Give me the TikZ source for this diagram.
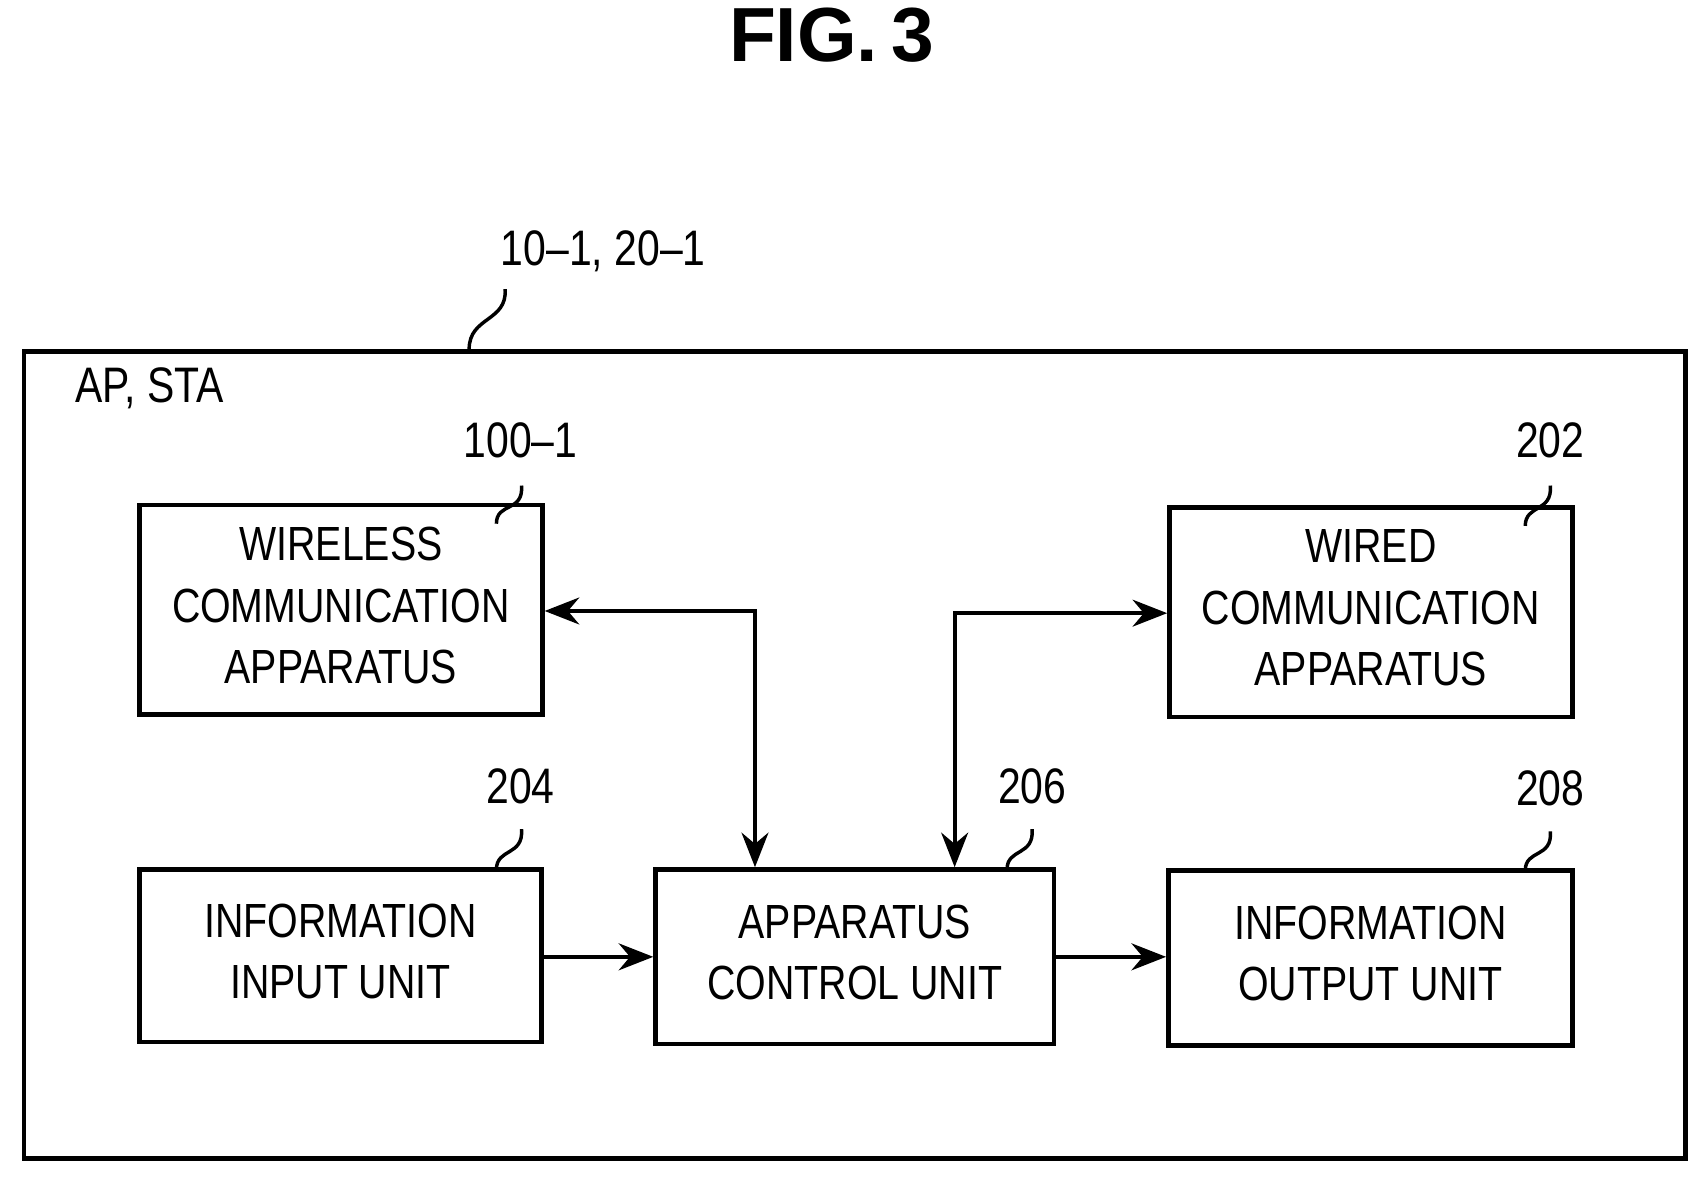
\documentclass[tikz,border=0pt]{standalone}
\usepackage{fontspec}
\setmainfont{Liberation Sans}
\usepackage{graphicx}
\usetikzlibrary{arrows.meta}
\newcommand{\sq}[1]{\scalebox{0.82}[1]{\begin{tabular}{@{}c@{}}#1\end{tabular}}}
\begin{document}
\begin{tikzpicture}[x=0.01cm,y=-0.01cm,
  box/.style={draw,line width=1.2pt},
  lbl/.style={font=\fontsize{13}{16}\selectfont},
  txt/.style={font=\fontsize{12.5}{16}\selectfont,align=center},
  arr/.style={line width=1.1pt,-{Stealth[length=9pt,width=7pt]}},
  darr/.style={line width=1.1pt,{Stealth[length=9pt,width=7pt]}-{Stealth[length=9pt,width=7pt]}},
  sqg/.style={line width=0.9pt}]
\useasboundingbox (0,0) rectangle (1560,1081);
\node[font=\fontsize{20}{24}\selectfont\bfseries] (title) at (762,32) {FIG.\,3};
\draw[box] (22,322) rectangle (1545,1062);
\node[lbl] (top) at (553,232) {\sq{10--1, 20--1}};
\coordinate (t1) at (463,265); \coordinate (t2) at (430,320);
\draw[sqg] (t1) .. controls (465,295) and (430,290) .. (t2);
\node[lbl] (apsta) at (137,358) {\sq{AP, STA}};
\node[box,minimum width=3.69cm,minimum height=1.58cm,txt] (wl) at (312.5,559) {\sq{WIRELESS\\COMMUNICATION\\APPARATUS}};
\node[box,minimum width=3.69cm,minimum height=1.58cm,txt] (wd) at (1256.5,561) {\sq{WIRED\\COMMUNICATION\\APPARATUS}};
\node[box,minimum width=3.68cm,minimum height=1.58cm,txt] (in) at (312,876) {\sq{INFORMATION\\INPUT UNIT}};
\node[box,minimum width=3.65cm,minimum height=1.60cm,txt] (ctl) at (783.5,877) {\sq{APPARATUS\\CONTROL UNIT}};
\node[box,minimum width=3.70cm,minimum height=1.60cm,txt] (out) at (1256,878) {\sq{INFORMATION\\OUTPUT UNIT}};
\node[lbl] (l100) at (477,408) {\sq{100--1}};
\node[lbl] (l202) at (1421,408) {\sq{202}};
\node[lbl] (l204) at (477,725) {\sq{204}};
\node[lbl] (l206) at (946,725) {\sq{206}};
\node[lbl] (l208) at (1421,727) {\sq{208}};
\draw[sqg] (478,445) .. controls (480,470) and (455,460) .. (455,480);
\draw[sqg] (1421,445) .. controls (1423,470) and (1398,462) .. (1398,482);
\draw[sqg] (478,760) .. controls (480,785) and (455,777) .. (455,797);
\draw[sqg] (946,760) .. controls (948,785) and (923,777) .. (923,797);
\draw[sqg] (1421,762) .. controls (1423,787) and (1398,778) .. (1398,798);
\draw[darr] (wl.east |- 0,560) -- (692,560) -- (ctl.north -| 692,0);
\draw[darr] (ctl.north -| 875,0) -- (875,562) -- (wd.west |- 0,562);
\draw[arr] (in.east |- 0,877) -- (ctl.west |- 0,877);
\draw[arr] (ctl.east |- 0,877) -- (out.west |- 0,877);
\end{tikzpicture}
\end{document}
